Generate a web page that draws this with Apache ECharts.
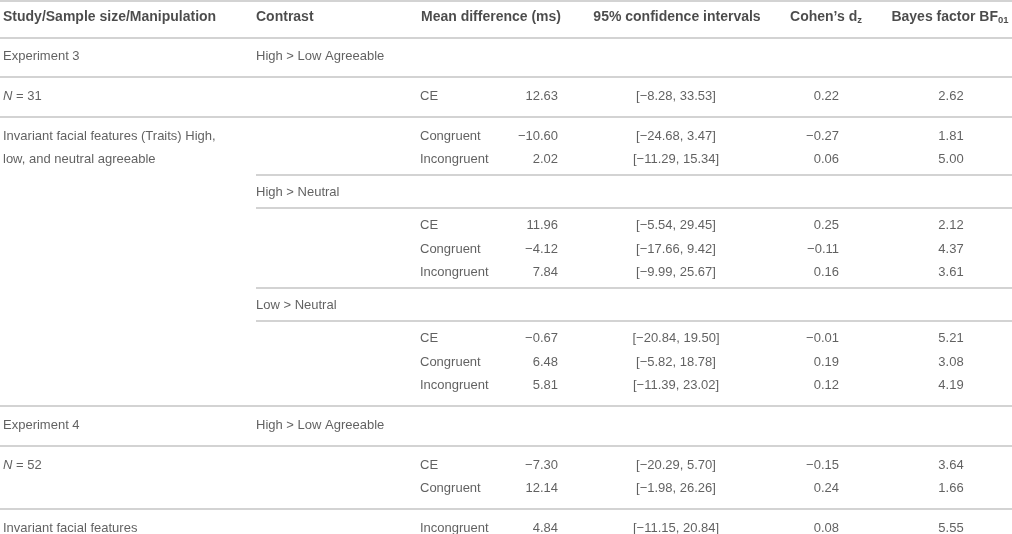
<!DOCTYPE html>
<html>
<head>
<meta charset="utf-8">
<script src="https://cdn.jsdelivr.net/npm/echarts@6/dist/echarts.min.js"></script>
<style>
  html, body { margin: 0; padding: 0; background: #fff; }
  #main { width: 1012px; height: 534px; }
</style>
</head>
<body>
<div id="main"></div>
<script>
// table content, one entry per text row (header excluded)
const headers = ['Study/Sample size/Manipulation', 'Contrast', 'Mean difference (ms)', '95% confidence intervals', 'Cohen\u2019s d{sub|z}', 'Bayes factor BF{sub|01}'];
const studies = ['Experiment 3', 'N = 31', 'Invariant facial features (Traits) High,\nlow, and neutral agreeable', '', '', '', '', '', '', '', '', '', 'Experiment 4', 'N = 52', '', 'Invariant facial features'];
const contrasts = ['High > Low Agreeable', '', '', '', 'High > Neutral', '', '', '', 'Low > Neutral', '', '', '', 'High > Low Agreeable', '', '', ''];
const conditions = ['', 'CE', 'Congruent', 'Incongruent', '', 'CE', 'Congruent', 'Incongruent', '', 'CE', 'Congruent', 'Incongruent', '', 'CE', 'Congruent', 'Incongruent'];
const meanDiff = [null, 12.63, -10.60, 2.02, null, 11.96, -4.12, 7.84, null, -0.67, 6.48, 5.81, null, -7.30, 12.14, 4.84];
const ciLow = [null, -8.28, -24.68, -11.29, null, -5.54, -17.66, -9.99, null, -20.84, -5.82, -11.39, null, -20.29, -1.98, -11.15];
const ciHigh = [null, 33.53, 3.47, 15.34, null, 29.45, 9.42, 25.67, null, 19.50, 18.78, 23.02, null, 5.70, 26.26, 20.84];
const cohenD = [null, 0.22, -0.27, 0.06, null, 0.25, -0.11, 0.16, null, -0.01, 0.19, 0.12, null, -0.15, 0.24, 0.08];
const bayesBF = [null, 2.62, 1.81, 5.00, null, 2.12, 4.37, 3.61, null, 5.21, 3.08, 4.19, null, 3.64, 1.66, 5.55];
// rule drawn under each row: full width, partial (from contrast column) or none
const rulesBelow = ['full', 'full', '', 'part', 'part', '', '', 'part', 'part', '', '', 'full', 'full', '', 'full', ''];

// layout
const W = 1012, H = 534;
const PITCH = 23.5, FULL_STEP = 39.7, PART_STEP = 33;
const HEADER_Y = 17, TOP_RULE_Y = 1;
const colX = { study: 3, contrast: 256, cond: 420, mean: 558, ci: 676, cohen: 839, bayes: 951 };
const headX = [3, 256, 561, 677, 826, 950];
const headAlign = ['left', 'left', 'right', 'center', 'center', 'center'];
const FONT = '"Liberation Sans", Arial, Helvetica, sans-serif';
const TEXT = '#3a3a3a', HEAD = '#1e1e1e', RULE = '#c4c4c4';

// row centres and rules from the row structure
const rowY = [];
const rules = [{ y: TOP_RULE_Y, x0: 0 }, { y: HEADER_Y + 20.5, x0: 0 }];
let y = HEADER_Y + FULL_STEP;
rulesBelow.forEach(r => {
  rowY.push(y);
  if (r === 'full') { rules.push({ y: y + 20.5, x0: 0 }); y += FULL_STEP; }
  else if (r === 'part') { rules.push({ y: y + 15, x0: colX.contrast }); y += PART_STEP; }
  else y += PITCH;
});

function fmt(v) { return v.toFixed(2).replace('-', '\u2212'); }

function textSeries(texts, x, align) {
  const data = [];
  texts.forEach((t, i) => {
    if (t === '' || t == null) return;
    const lines = t.split('\n').length;
    data.push([x, rowY[i] + (lines - 1) * PITCH / 2, t]);
  });
  return {
    type: 'scatter', symbolSize: 0, silent: true, clip: false, data: data,
    label: {
      show: true, position: 'inside', align: align, verticalAlign: 'middle',
      fontFamily: FONT, fontSize: 13, color: TEXT, lineHeight: PITCH,
      formatter: p => p.value[2].replace(/^N = /, '{i|N} = '),
      rich: { i: { fontFamily: FONT, fontSize: 13, color: TEXT, fontStyle: 'italic', lineHeight: PITCH } }
    }
  };
}

const headerSeries = {
  type: 'scatter', symbolSize: 0, silent: true, clip: false,
  data: headers.map((h, i) => ({
    value: [headX[i], HEADER_Y, h],
    label: { align: headAlign[i] }
  })),
  label: {
    show: true, position: 'inside', verticalAlign: 'middle',
    fontFamily: FONT, fontSize: 14, fontWeight: 'bold', color: HEAD, lineHeight: 16,
    formatter: p => p.value[2],
    rich: { sub: { fontFamily: FONT, fontSize: 9.5, fontWeight: 'bold', color: HEAD, lineHeight: 8, verticalAlign: 'bottom' } }
  }
};

const chart = echarts.init(document.getElementById('main'));
chart.setOption({
  animation: false,
  backgroundColor: '#fff',
  grid: { left: 0, right: 0, top: 0, bottom: 0 },
  xAxis: { type: 'value', min: 0, max: W, show: false },
  yAxis: { type: 'value', min: 0, max: H, inverse: true, show: false },
  series: [
    {
      type: 'lines', coordinateSystem: 'cartesian2d', silent: true,
      lineStyle: { color: RULE, width: 1.5, opacity: 1 },
      data: rules.map(r => ({ coords: [[r.x0, r.y], [W, r.y]] }))
    },
    headerSeries,
    textSeries(studies, colX.study, 'left'),
    textSeries(contrasts, colX.contrast, 'left'),
    textSeries(conditions, colX.cond, 'left'),
    textSeries(meanDiff.map(v => v == null ? '' : fmt(v)), colX.mean, 'right'),
    textSeries(ciLow.map((v, i) => v == null ? '' : '[' + fmt(v) + ', ' + fmt(ciHigh[i]) + ']'), colX.ci, 'center'),
    textSeries(cohenD.map(v => v == null ? '' : fmt(v)), colX.cohen, 'right'),
    textSeries(bayesBF.map(v => v == null ? '' : fmt(v)), colX.bayes, 'center')
  ]
});
</script>
</body>
</html>
